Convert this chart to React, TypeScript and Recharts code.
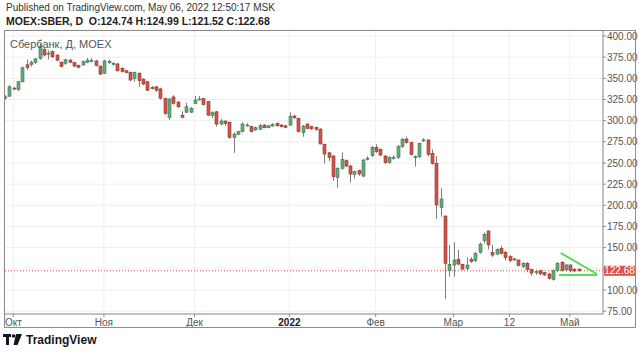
import React from 'react';
import { ComposedChart, Bar, XAxis, YAxis, CartesianGrid, ReferenceLine } from 'recharts';

// daily candles, Sep 29 2021 .. May 06 2022 (MOEX closed Feb 28 - Mar 23)
const opens = [
  327, 329, 338.5, 337, 346, 366, 366.5, 369, 373.5, 384, 379.5, 381.5, 377.5, 369, 367.7, 371.5, 368.5, 365.5, 365.8, 369,
  370.8, 370.5, 364.5, 356, 369.5, 367.5, 367, 362, 359, 357, 350, 356, 349, 346, 339, 340, 337.5, 326, 304, 328,
  322, 306.5, 310, 310, 320.5, 325.3, 326, 322.5, 306.2, 310.5, 296, 299.6, 298, 280.3, 284, 287, 294.7, 293, 289, 290,
  294.8, 291.7, 293.6, 296.8, 294.8, 294, 294.8, 305.5, 302.7, 285.8, 296, 292.9, 292.1, 290, 272, 262, 258.3, 232.7, 243.7, 252.7,
  246.4, 236.6, 241, 234.6, 255.3, 258.7, 268.5, 266, 258.3, 250.4, 256.6, 256.7, 269.3, 278.3, 274.4, 257.4, 257.5, 277.1, 277.2, 261.4,
  249.6, 197.6, 187.4, 122.8, 129.5, 136.2, 130.3, 125.6, 136.2, 134.7, 144.5, 158.3, 169.7, 144.1, 142.5, 149.2, 144.5, 139.4, 136.5, 135.4,
  127.6, 131.5, 124, 121.6, 122.8, 120.5, 118.9, 112.6, 122.9, 132.7, 123.7, 129.6, 124.4, 124.74,
];
const highs = [
  330, 342, 340, 347, 364, 372, 371, 374, 391, 386, 383, 383, 378, 370, 373, 373, 369, 366, 371, 374,
  374, 372, 365, 372, 372, 369, 368, 363, 360, 358, 358, 357, 350, 347, 341, 341, 339, 327, 327, 330,
  323, 311, 321, 316, 329, 329, 327, 323, 311, 311.5, 302, 300, 299, 286, 288, 298, 297, 294, 293, 296,
  296, 295, 297, 298, 296, 295, 309.8, 307, 303, 295, 297, 294, 293, 291, 273, 263, 259, 245, 262.6, 254,
  248, 241, 242, 255, 258, 270, 272, 267, 259, 258, 259, 271, 279, 281, 275, 259, 274, 279, 278, 266,
  258.3, 220, 188, 153.2, 156.3, 147.3, 131, 138.6, 139, 145, 156, 168, 170, 153.2, 149, 152, 146, 141, 138, 136,
  133, 133, 125, 124, 124, 121.5, 120, 124, 133, 134, 131, 130, 126, 124.99,
];
const lows = [
  325, 328, 336, 335, 345, 360, 364, 367, 372, 376, 372.5, 374, 370, 363, 366, 368, 363, 362, 365, 368,
  369, 364, 354, 355, 367, 365, 358, 357, 356, 347, 346, 340, 342, 335, 337, 334, 325, 307, 301, 319,
  315, 303, 309, 309, 319.5, 324, 318, 306, 303, 293, 295, 294, 279, 262, 283, 286, 293, 286, 288, 289,
  291, 291, 293, 293, 292, 291, 294, 302, 286, 281, 290, 289, 288, 272, 249.6, 252, 229, 221, 242, 245,
  227, 232, 235, 233, 253, 257, 262, 258, 249, 249, 254, 255, 268, 273, 259, 245.7, 256, 275, 258, 248,
  183.9, 186.6, 89.6, 115.8, 115.8, 129, 123, 122.8, 132, 133, 143, 155, 148, 139, 141, 142, 135, 133, 134, 128,
  126, 121, 117, 118, 117.5, 116.5, 112.5, 111, 121, 122, 122, 121, 121, 121.52,
];
const closes = [
  328, 340, 338, 346, 362.5, 363, 369, 373, 388, 377.5, 379.8, 375.5, 371.5, 364, 372, 369, 364.5, 363, 369.7, 371.5,
  371, 365, 355, 370.5, 369.8, 367.8, 359, 358, 357, 348, 356.7, 347.3, 343.3, 336, 338.8, 336, 326.5, 308.5, 325.5, 320.5,
  316.5, 304, 316.5, 314.5, 324.4, 325.6, 319, 306.5, 309.4, 296, 299.6, 296.8, 280, 284.2, 287, 296, 294.9, 287, 291.7, 294,
  291.7, 294, 295.6, 294, 292.9, 292.1, 304.7, 303.5, 287, 293.6, 291, 290.5, 289.7, 272.5, 260.6, 256.7, 234, 243.7, 254.3, 246.4,
  237, 239.8, 237, 253.5, 255.6, 268.5, 263.4, 259.4, 250.4, 256.7, 256.8, 269.3, 278.3, 274.4, 260.2, 257.6, 273.2, 277.3, 260.2, 249.6,
  200.4, 207.5, 131.5, 130.3, 135.4, 130.7, 124.8, 129.5, 133.5, 143.3, 154.3, 165.8, 153.2, 141.3, 148, 143.3, 138.2, 134.7, 136.7, 128.8,
  131.5, 124, 120, 121.8, 119, 117.8, 113.8, 122.9, 131.5, 123, 129.6, 122.9, 122.5, 122.68,
];

// bar index of each month label
const monthTicks = [2, 23, 44, 66, 86, 104, 117, 131];
const monthLabels = ['Окт', 'Ноя', 'Дек', '2022', 'Фев', 'Мар', '12', 'Май'];
const priceTicks = [75, 100, 125, 150, 175, 200, 225, 250, 275, 300, 325, 350, 375, 400];
const lastPrice = 122.68;

// user drawing (falling wedge) in bar index / price
const wedgeUpper = [{ x: 128.9, y: 143.7 }, { x: 137.3, y: 118.9 }];
const wedgeLower = [{ x: 128.5, y: 117.7 }, { x: 137.3, y: 117.7 }];

const candles = opens.map((o, i) => ({
  i,
  o,
  h: highs[i],
  l: lows[i],
  c: closes[i],
  range: [lows[i], highs[i]],
}));

const Candle = (props: any) => {
  const { x, y, width, height, payload } = props;
  if (x == null || payload == null) return null;
  const top = Math.min(y, y + height);
  const bottom = Math.max(y, y + height);
  const { o, h, l, c } = payload;
  const span = h - l || 1;
  const toY = (v: number) => top + ((h - v) / span) * (bottom - top);
  const up = c >= o;
  const cx = Math.round(x + width / 2) + 0.5;
  const bodyTop = toY(Math.max(o, c));
  const bodyH = Math.max(1, toY(Math.min(o, c)) - bodyTop);
  return (
    <g>
      <line x1={cx} x2={cx} y1={top} y2={bottom} stroke="#7d7d7d" strokeWidth={1} />
      <rect
        x={cx - 1.5}
        y={bodyTop}
        width={3}
        height={bodyH}
        fill={up ? '#6aa77f' : '#c9584d'}
        stroke={up ? '#2f7a4c' : '#9a2e26'}
        strokeWidth={0.6}
      />
    </g>
  );
};

const MonthTick = (props: any) => {
  const { x, y, payload } = props;
  const idx = monthTicks.indexOf(payload.value);
  const label = monthLabels[idx] ?? '';
  return (
    <text
      x={x}
      y={y}
      dy="0.71em"
      textAnchor="middle"
      fontSize={10}
      fill={label === '2022' ? '#222' : '#555'}
      fontWeight={label === '2022' ? 'bold' : 'normal'}
    >
      {label}
    </text>
  );
};

// the 125.00 label sits under the last-price badge, so it is not drawn
const PriceTick = (props: any) => {
  const { x, y, payload } = props;
  if (Math.abs(payload.value - lastPrice) < 10) return null;
  return (
    <text x={x} y={y} dy="0.355em" textAnchor="start" fontSize={10} fill="#555">
      {Number(payload.value).toFixed(2)}
    </text>
  );
};

const PriceLabel = (props: any) => {
  const vb = props.viewBox;
  if (!vb) return null;
  const left = vb.x + vb.width + 1;
  return (
    <g>
      <rect x={left} y={vb.y - 5} width={31} height={10} fill="#d9534a" />
      <text x={left + 15.5} y={vb.y + 3.5} textAnchor="middle" fontSize={10} fill="#fff">
        {lastPrice.toFixed(2)}
      </text>
    </g>
  );
};

export default function App() {
  return (
    <div
      style={{
        position: 'absolute',
        left: 0,
        top: 0,
        width: 639,
        height: 354,
        background: '#fff',
        fontFamily: '"Liberation Sans", Arial, sans-serif',
        overflow: 'hidden',
      }}
    >
      <div style={{ position: 'absolute', left: 6, top: 2, fontSize: 10, color: '#333', whiteSpace: 'nowrap' }}>
        Published on TradingView.com, May 06, 2022 12:50:17 MSK
      </div>
      <div
        style={{ position: 'absolute', left: 6, top: 15, fontSize: 10.5, fontWeight: 'bold', color: '#222', whiteSpace: 'nowrap' }}
      >
        MOEX:SBER, D&nbsp; O:124.74 H:124.99 L:121.52 C:122.68
      </div>

      <div style={{ position: 'absolute', left: 0, top: 0 }}>
        <ComposedChart width={639} height={354} data={candles} margin={{ top: 30, left: 4, right: 4, bottom: 27 }}>
          <CartesianGrid stroke="#efefef" />
          <XAxis
            dataKey="i"
            type="number"
            domain={[-0.16, 138.7]}
            ticks={monthTicks}
            tick={<MonthTick />}
            height={13}
            tickSize={3}
            tickMargin={2}
            allowDataOverflow
            axisLine={{ stroke: '#8c8c8c' }}
            tickLine={{ stroke: '#8c8c8c' }}
          />
          <YAxis
            orientation="right"
            type="number"
            domain={[71.65, 407.1]}
            ticks={priceTicks}
            width={32}
            tickSize={3}
            tickMargin={1}
            allowDataOverflow
            interval={0}
            tick={<PriceTick />}
            axisLine={{ stroke: '#8c8c8c' }}
            tickLine={{ stroke: '#8c8c8c' }}
          />
          <ReferenceLine
            y={lastPrice}
            stroke="#e0574d"
            strokeDasharray="1 2"
            label={<PriceLabel />}
          />
          <Bar dataKey="range" barSize={3} shape={<Candle />} isAnimationActive={false} />
          <ReferenceLine segment={wedgeUpper} stroke="#53dd53" strokeWidth={2} ifOverflow="visible" />
          <ReferenceLine segment={wedgeLower} stroke="#53dd53" strokeWidth={2} ifOverflow="visible" />
        </ComposedChart>
      </div>

      <div style={{ position: 'absolute', left: 10, top: 38, fontSize: 11, color: '#555', whiteSpace: 'nowrap' }}>
        Сбербанк, Д, MOEX
      </div>

      <div
        style={{
          position: 'absolute',
          left: 4,
          top: 30,
          width: 630,
          height: 296,
          border: '1px solid #8c8c8c',
          pointerEvents: 'none',
        }}
      />

      <div style={{ position: 'absolute', left: 3, top: 333, display: 'flex', alignItems: 'center' }}>
        <svg width={20} height={12} viewBox="0 0 20 12">
          <rect x={0} y={0} width={8} height={3} fill="#131722" />
          <rect x={3} y={0} width={3} height={11} fill="#131722" />
          <circle cx={10.5} cy={2} r={1.8} fill="#131722" />
          <polygon points="13,0 19,0 14.5,11 10.5,11" fill="#131722" />
        </svg>
        <span style={{ fontSize: 12, fontWeight: 'bold', color: '#131722', marginLeft: 3 }}>TradingView</span>
      </div>
    </div>
  );
}
